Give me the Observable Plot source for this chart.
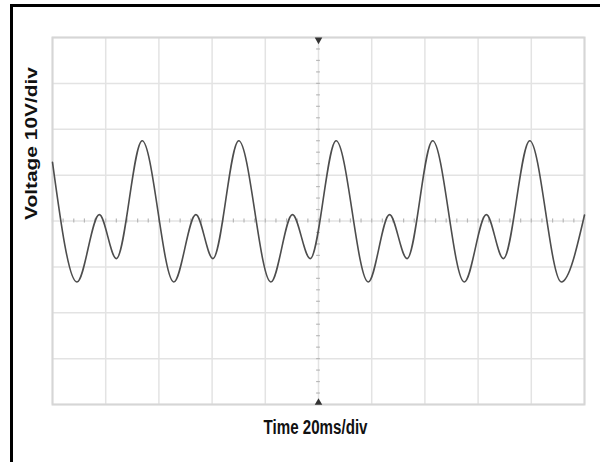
<!DOCTYPE html>
<html>
<head>
<meta charset="utf-8">
<script src="https://cdn.jsdelivr.net/npm/d3@7"></script>
<script src="https://cdn.jsdelivr.net/npm/@observablehq/plot@0.6"></script>
<style>
  html, body { margin: 0; padding: 0; background: #fff; overflow: hidden; }
  #chart svg { display: block; }
</style>
</head>
<body>
<div id="chart"></div>
<script>
// Waveform (time in ms, voltage in V; 20 ms/div, 10 V/div)
const timeMs = [0, 9.2, 17.6, 24.0, 33.7, 45.6, 53.9, 60.3, 70.0, 82.1, 90.2, 96.9, 106.6, 118.7, 126.7, 133.3, 142.9, 154.8, 163.1, 169.5, 179.4, 191.3, 200];
const voltage = [12.8, -13.3, 1.4, -8.2, 17.5, -13.3, 1.4, -8.2, 17.5, -13.3, 1.4, -8.2, 17.5, -13.3, 1.4, -8.2, 17.5, -13.3, 1.4, -8.2, 17.5, -13.3, 1.3];

// Graticule
const timeGrid = [0, 20, 40, 60, 80, 100, 120, 140, 160, 180, 200];
const voltGrid = [-40, -30, -20, -10, 0, 10, 20, 30, 40];
const timeMinor = d3.range(0, 200.01, 4);
const voltMinor = d3.range(-40, 40.01, 2.5);
const centerTime = [100];

const xLabel = "Time 20ms/div";
const yLabel = "Voltage 10V/div";

const data = timeMs.map((t, i) => ({t, v: voltage[i]}));

const gridColor = "#e3e3e3";
const font = "'Liberation Sans', Arial, Helvetica, sans-serif";

const chart = Plot.plot({
  width: 600,
  height: 462,
  marginLeft: 52,
  marginRight: 16,
  marginTop: 37,
  marginBottom: 58,
  x: {domain: [0, 200], axis: null},
  y: {domain: [-40, 40], axis: null},
  style: {fontFamily: font, background: "#fff"},
  marks: [
    // outer black border (top & left visible)
    Plot.frame({stroke: "#000", strokeWidth: 3, insetLeft: -41, insetTop: -32, insetRight: -40, insetBottom: -90}),
    // grid
    Plot.ruleX(timeGrid, {stroke: gridColor, strokeWidth: 1.5}),
    Plot.ruleY(voltGrid, {stroke: gridColor, strokeWidth: 1.5}),
    // minor ticks on the center crosshair
    Plot.ruleX(timeMinor, {y1: -0.45, y2: 0.45, stroke: "#b8b8b8", strokeWidth: 1.2}),
    Plot.ruleY(voltMinor, {x1: 99.3, x2: 100.7, stroke: "#b8b8b8", strokeWidth: 1.2}),
    // plot border
    Plot.frame({stroke: "#d6d6d6", strokeWidth: 2}),
    // trigger markers
    Plot.dot(centerTime, {x: d => d, y: () => 40, symbol: "triangle", rotate: 180, r: 2.8, fill: "#333", stroke: "none", dy: 2.3}),
    Plot.dot(centerTime, {x: d => d, y: () => -40, symbol: "triangle", r: 2.8, fill: "#333", stroke: "none", dy: -2}),
    // waveform
    Plot.line(data, {x: "t", y: "v", curve: "monotone-x", stroke: "#4d4d4d", strokeWidth: 1.6}),
    // axis titles
    Plot.text([xLabel], {text: d => d, frameAnchor: "bottom", dx: -3, dy: 15.3, lineAnchor: "top", fontSize: 19.5, fontWeight: "bold", fill: "#111"}),
    Plot.text([yLabel], {text: d => d, frameAnchor: "left", dx: -20.8, dy: -1, rotate: -90, lineAnchor: "middle", fontSize: 16, fontWeight: "bold", fill: "#111"})
  ]
});

chart.style.overflow = "hidden";
d3.select(chart).selectAll("text").each(function () {
  const s = this.textContent;
  if (s === xLabel) { this.setAttribute("textLength", 104); this.setAttribute("lengthAdjust", "spacingAndGlyphs"); }
  if (s === yLabel) { this.setAttribute("textLength", 153); this.setAttribute("lengthAdjust", "spacingAndGlyphs"); }
});
document.getElementById("chart").appendChild(chart);
</script>
</body>
</html>
